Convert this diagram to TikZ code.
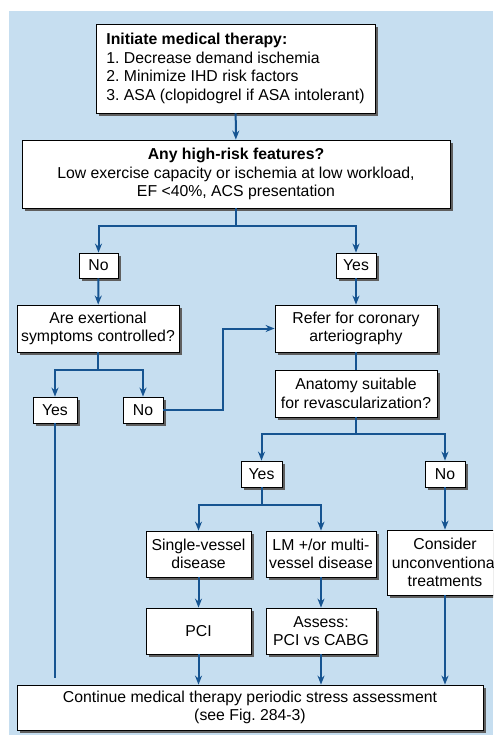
\documentclass[tikz,border=0pt]{standalone}
\usepackage{fontspec}
\setmainfont{Liberation Sans}
\usepackage{xcolor}
\usetikzlibrary{shapes,arrows,arrows.meta,positioning,shadows}

\definecolor{bgblue}{RGB}{198,222,240}
\definecolor{lineblue}{RGB}{22,84,145}
\definecolor{shadowgray}{RGB}{95,95,95}
\frenchspacing

\begin{document}
\begin{tikzpicture}[x=1pt, y=-1pt,
        font=\fontsize{15.8}{18.5}\selectfont,
        box/.style={draw=black, line width=0.8pt, fill=white, inner sep=0pt, align=center,
            drop shadow={shadow xshift=3pt, shadow yshift=-3pt, fill=shadowgray, opacity=1}},
        conn/.style={draw=lineblue, line width=2pt},
        arr/.style={conn, -{Stealth[length=9pt,width=7pt]}}
    ]
        \useasboundingbox (0,0) rectangle (493,735);
        \clip (0,0) rectangle (493,735);
        \fill[bgblue] (9,11) rectangle (493,735);

        % boxes
        \node[box, minimum width=279, minimum height=89, align=left] (init) at (235.5,68.5)
            {\textbf{Initiate medical therapy:}\\1. Decrease demand ischemia\\2. Minimize IHD risk factors\\3. ASA (clopidogrel if ASA intolerant)};
        \node[box, minimum width=428, minimum height=68] (risk) at (236,174)
            {\textbf{Any high-risk features?}\\Low exercise capacity or ischemia at low workload,\\EF <40\%, ACS presentation};
        \node[box, minimum width=39, minimum height=25] (no1) at (98.5,265.5) {No};
        \node[box, minimum width=40, minimum height=25] (yes1) at (356,265.5) {Yes};
        \node[box, minimum width=162, minimum height=47] (exert) at (98,328.5) {Are exertional\\symptoms controlled?};
        \node[box, minimum width=162, minimum height=47] (refer) at (356,328.5) {Refer for coronary\\arteriography};
        \node[box, minimum width=44, minimum height=26] (yes2) at (55,410) {Yes};
        \node[box, minimum width=40, minimum height=26] (no2) at (143,410) {No};
        \node[box, minimum width=162, minimum height=47] (anat) at (356,393.5) {Anatomy suitable\\for revascularization?};
        \node[box, minimum width=41, minimum height=26] (yes3) at (261.5,474) {Yes};
        \node[box, minimum width=40, minimum height=26] (no3) at (445,474) {No};
        \node[box, minimum width=105, minimum height=46] (single) at (198.5,554) {Single-vessel\\disease};
        \node[box, minimum width=110, minimum height=46] (multi) at (321,554) {LM +/or multi-\\vessel disease};
        \node[box, minimum width=116, minimum height=65] (consider) at (445,562.5) {Consider\\unconventional\\treatments};
        \node[box, minimum width=105, minimum height=46] (pci) at (198.5,631) {PCI};
        \node[box, minimum width=110, minimum height=46] (assess) at (321,631) {Assess:\\PCI vs CABG};
        \node[box, minimum width=466, minimum height=45] (cont) at (250,707.5)
            {Continue medical therapy periodic stress assessment\\(see Fig. 284-3)};

        % connectors
        \draw[arr] (init) -- (risk);
        \draw[conn] (risk.south) -- ++(0,18) coordinate (riskfork);
        \draw[arr] (riskfork) -| (no1);
        \draw[arr] (riskfork) -| (yes1);
        \draw[arr] (no1) -- (exert);
        \draw[arr] (yes1) -- (refer);
        \draw[conn] (exert.south) -- ++(0,18) coordinate (exertfork);
        \draw[arr] (exertfork) -| (yes2);
        \draw[arr] (exertfork) -| (no2);
        \draw[arr] (no2.east) -- ++(60,0) |- (refer.west);
        \draw[conn] (refer) -- (anat);
        \draw[conn] (anat.south) -- ++(0,17) coordinate (anatfork);
        \draw[arr] (anatfork) -| (yes3);
        \draw[arr] (anatfork) -| (no3);
        \draw[conn] (yes3.south) -- ++(0,18) coordinate (yesfork);
        \draw[arr] (yesfork) -| (single);
        \draw[arr] (yesfork) -| (multi);
        \draw[arr] (no3) -- (consider);
        \draw[arr] (single) -- (pci);
        \draw[arr] (multi) -- (assess);
        \draw[arr] (pci.south) -- (pci.south |- cont.north);
        \draw[arr] (assess.south) -- (assess.south |- cont.north);
        \draw[arr] (consider.south) -- (consider.south |- cont.north);
        \coordinate (yesend) at (55,678);
        \draw[conn] (yes2) -- (yesend);
\end{tikzpicture}
\end{document}
